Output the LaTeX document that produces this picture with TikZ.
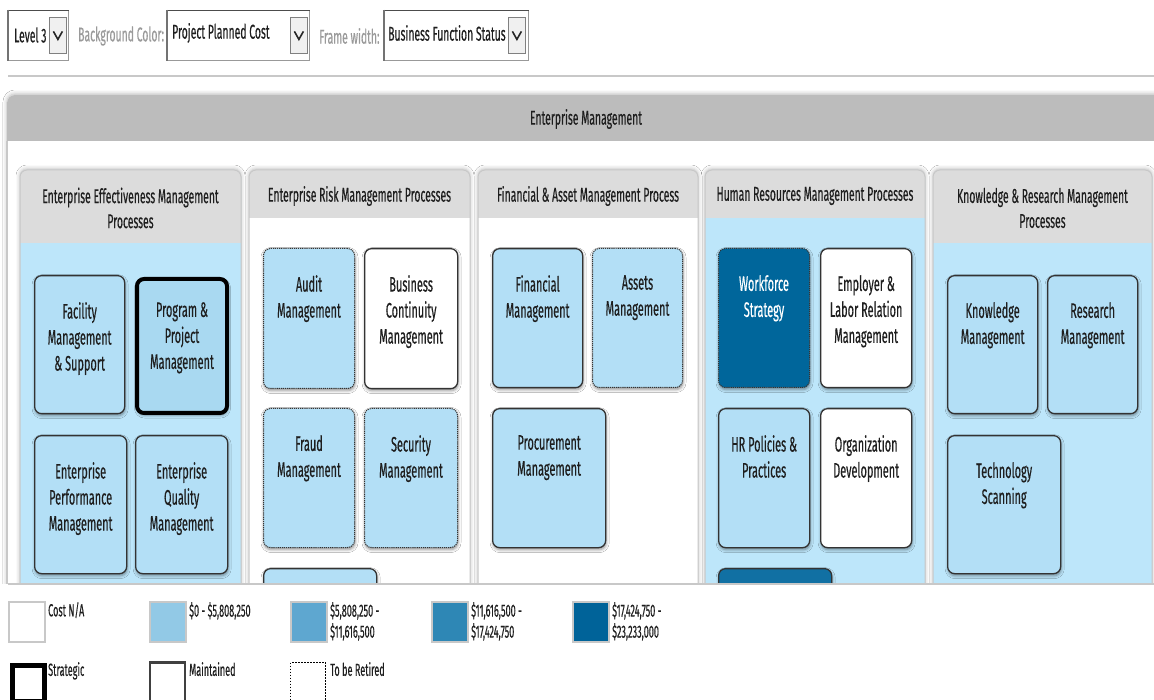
\documentclass[tikz,border=0pt]{standalone}
\usepackage{fontspec}
\setmainfont[FakeStretch=0.52,FakeBold=0.35]{Fira Sans}
\usetikzlibrary{shadows.blur}
\definecolor{bodyblue}{HTML}{BDE6FA}
\definecolor{boxblue}{HTML}{B3DFF6}
\definecolor{progblue}{HTML}{A9D9F1}
\definecolor{darkblue}{HTML}{00669B}
\definecolor{darkblueb}{HTML}{1170A3}
\definecolor{hdrgray}{HTML}{DCDCDC}
\definecolor{outergray}{HTML}{BCBCBC}
\definecolor{bordgray}{HTML}{C8C8C8}
\definecolor{txt}{HTML}{1E1E1E}
\definecolor{lbltxt}{HTML}{9A9A9A}
\definecolor{lga}{HTML}{92C9E6}
\definecolor{lgb}{HTML}{5EA7D0}
\definecolor{lgc}{HTML}{2E87B5}
\definecolor{lgd}{HTML}{006399}
\tikzset{
  bx/.style={draw=black!80, line width=1.3pt, rounded corners=7pt, fill=boxblue, inner sep=0pt,
    anchor=north west,
    blur shadow={shadow xshift=0.5pt, shadow yshift=-2pt, shadow opacity=45, shadow blur radius=3pt}},
  retire/.style={dash pattern=on 1.2pt off 0.9pt, line width=1pt},
  strat/.style={line width=4pt, draw=black, fill=progblue},
  whitebox/.style={fill=white},
  darkbox/.style={fill=darkblue},
  boxlbl/.style={font=\fontsize{21}{26}\selectfont, text=txt, align=center, anchor=north, inner sep=0pt},
  hdrlbl/.style={font=\fontsize{20}{25}\selectfont, text=txt, align=center},
  lgtxt/.style={font=\fontsize{17.5}{21}\selectfont, text=txt, align=left, anchor=north west, inner sep=0pt},
  ctltxt/.style={font=\fontsize{20}{22}\selectfont, text=txt, anchor=west, inner sep=0pt},
  ctllbl/.style={font=\fontsize{20}{22}\selectfont, text=lbltxt, anchor=west, inner sep=0pt},
  ddbox/.style={draw=black!40, line width=1pt, fill=white},
  ddbtn/.style={draw=black!50, line width=0.8pt, fill=black!6},
  chev/.style={line width=1.6pt, draw=black!85},
  swatch/.style={draw=bordgray, line width=1.5pt},
}
% name, x1, y1, x2, y2, style, text
\newcommand\procbox[7]{%
  \node[bx,#6, minimum width={#4-#2}, minimum height={#5-#3}] (#1) at (#2,#3) {};
  \node[boxlbl] (#1t) at ([yshift=-27pt]#1.north) {#7};}
\newcommand\colpanel[4]{% x1,x2,header bottom, body colour
  \fill[#4, blur shadow={shadow xshift=0pt, shadow yshift=1pt, shadow opacity=30, shadow blur radius=4pt}, rounded corners=7pt] (#1,170) rectangle (#2,640);
  \fill[hdrgray] (#1,#3) [rounded corners=7pt] -- (#1,170) -- (#2,170) [sharp corners] -- (#2,#3) -- cycle;
  \draw[bordgray, line width=1pt] (#1,640) [rounded corners=7pt] -- (#1,170) -- (#2,170) [sharp corners] -- (#2,640);}
\newcommand\ddtop[1]{\draw[black!70, line width=1.8pt] ([yshift=-0.5pt]#1.north west) -- ([yshift=-0.5pt]#1.north east);
  \draw[black!55, line width=1.2pt] (#1.north west) -- (#1.south west);}
\begin{document}
\begin{tikzpicture}[x=1pt,y=-1pt]
\useasboundingbox (0,0) rectangle (1154,700);
\fill[white] (0,0) rectangle (1154,700);
% ---------- controls
\node[ddbox, minimum width=60, minimum height=50, anchor=north west] (dda) at (8,10) {};
\ddtop{dda}
\node[ctltxt] (ddat) at (14,35) {Level 3};
\node[ddbtn, minimum width=17, minimum height=36, anchor=north west] (ddab) at (49,17) {};
\draw[chev] ([xshift=-4.5pt,yshift=4pt]ddab.center) -- ([yshift=-4pt]ddab.center) -- ([xshift=4.5pt,yshift=4pt]ddab.center);
\node[ctllbl] (lbla) at (78,36) {Background Color:};
\node[ddbox, minimum width=142, minimum height=50, anchor=north west] (ddb) at (167,10) {};
\ddtop{ddb}
\node[ctltxt] (ddbt) at (172,33) {Project Planned Cost};
\node[ddbtn, minimum width=17, minimum height=36, anchor=north west] (ddbb) at (290,17) {};
\draw[chev] ([xshift=-4.5pt,yshift=4pt]ddbb.center) -- ([yshift=-4pt]ddbb.center) -- ([xshift=4.5pt,yshift=4pt]ddbb.center);
\node[ctllbl] (lblb) at (319,36) {Frame width:};
\node[ddbox, minimum width=144, minimum height=50, anchor=north west] (ddc) at (384,10) {};
\ddtop{ddc}
\node[ctltxt] (ddct) at (388,33) {Business Function Status};
\node[ddbtn, minimum width=17, minimum height=36, anchor=north west] (ddcb) at (508,17) {};
\draw[chev] ([xshift=-4.5pt,yshift=4pt]ddcb.center) -- ([yshift=-4pt]ddcb.center) -- ([xshift=4.5pt,yshift=4pt]ddcb.center);
\draw[bordgray, line width=2pt] (8,76) -- (1154,76);
% ---------- main panel
\begin{scope}
\clip (0,88) rectangle (1154,583);
\fill[white, blur shadow={shadow xshift=0pt, shadow yshift=1pt, shadow opacity=30, shadow blur radius=4pt}, rounded corners=8pt] (7,95) rectangle (1170,640);
\fill[outergray] (7,141) [rounded corners=8pt] -- (7,95) -- (1170,95) [sharp corners] -- (1170,141) -- cycle;
\draw[bordgray, line width=1.5pt] (7,640) -- (7,141);
\node[hdrlbl] (em) at (586,119) {Enterprise Management};
\colpanel{20}{241}{243}{bodyblue}
\colpanel{249}{470}{218}{white}
\colpanel{478}{698}{218}{white}
\colpanel{705}{925}{218}{bodyblue}
\colpanel{933}{1152}{243}{bodyblue}
\node[hdrlbl] (h1) at (130.5,208) {Enterprise Effectiveness Management\\Processes};
\node[hdrlbl] (h2) at (359.5,196) {Enterprise Risk Management Processes};
\node[hdrlbl] (h3) at (588,196) {Financial \& Asset Management Process};
\node[hdrlbl] (h4) at (815,196) {Human Resources Management Processes};
\node[hdrlbl] (h5) at (1042.5,208) {Knowledge \& Research Management\\Processes};
% column 1
\procbox{fac}{34}{275}{124}{413}{}{Facility\\Management\\\& Support}
\node[bx, strat, minimum width=90, minimum height=134] (prog) at (135,277) {};
\node[boxlbl] (progt) at ([yshift=-25pt]prog.north) {Program \&\\Project\\Management};
\procbox{perf}{34}{435}{126}{573}{}{Enterprise\\Performance\\Management}
\procbox{qual}{135}{435}{227}{573}{}{Enterprise\\Quality\\Management}
% column 2
\procbox{audit}{263}{248}{354}{388}{retire}{Audit\\Management}
\procbox{bcm}{364}{248}{457}{388}{whitebox}{Business\\Continuity\\Management}
\procbox{fraud}{263}{408}{354}{547}{retire}{Fraud\\Management}
\procbox{sec}{364}{408}{457}{547}{retire}{Security\\Management}
\node[bx, minimum width=113, minimum height=60] (cpart) at (263,568) {};
% column 3
\procbox{fin}{492}{248}{582}{387}{}{Financial\\Management}
\procbox{ast}{592}{248}{682}{387}{retire}{Assets\\Management}
\procbox{proc}{492}{408}{605}{547}{}{Procurement\\Management}
% column 4
\node[bx, retire, darkbox, minimum width=91, minimum height=139] (wf) at (718,248) {};
\node[boxlbl, text=white] (wft) at ([yshift=-27pt]wf.north) {Workforce\\Strategy};
\procbox{elr}{820}{248}{911}{387}{whitebox}{Employer \&\\Labor Relation\\Management}
\procbox{hrp}{718}{408}{809}{547}{}{HR Policies \&\\Practices}
\procbox{od}{820}{408}{911}{547}{whitebox}{Organization\\Development}
\node[bx, fill=darkblueb, minimum width=113, minimum height=60] (hpart) at (718,568) {};
% column 5
\procbox{km}{947}{275}{1037}{413}{}{Knowledge\\Management}
\procbox{rm}{1047}{275}{1137}{413}{}{Research\\Management}
\procbox{ts}{947}{435}{1060}{573}{}{Technology\\Scanning}
\end{scope}
\draw[bordgray, line width=2pt] (8,584) -- (1154,584);
% ---------- legend
\node[swatch, fill=white, minimum width=36, minimum height=40, anchor=north west] (sa) at (8,601) {};
\node[lgtxt] (sat) at (48,602) {Cost N/A};
\node[swatch, fill=lga, minimum width=36, minimum height=40, anchor=north west] (sb) at (149,601) {};
\node[lgtxt] (sbt) at (189,602) {\$0 - \$5,808,250};
\node[swatch, fill=lgb, minimum width=36, minimum height=40, anchor=north west] (sc) at (290,601) {};
\node[lgtxt] (sct) at (330,602) {\$5,808,250 -\\\$11,616,500};
\node[swatch, fill=lgc, minimum width=36, minimum height=40, anchor=north west] (sd) at (431,601) {};
\node[lgtxt] (sdt) at (471,602) {\$11,616,500 -\\\$17,424,750};
\node[swatch, fill=lgd, minimum width=36, minimum height=40, anchor=north west] (se) at (572,601) {};
\node[lgtxt] (set) at (612,602) {\$17,424,750 -\\\$23,233,000};
\node[draw=black, line width=4.5pt, fill=white, minimum width=32, minimum height=36, anchor=north west] (ra) at (10,663) {};
\node[lgtxt] (rat) at (48,662) {Strategic};
\node[draw=black!75, line width=1.5pt, fill=white, minimum width=35, minimum height=38, anchor=north west] (rb) at (149,662) {};
\draw[black!75, line width=2.5pt] (rb.north west) -- (rb.north east);
\node[lgtxt] (rbt) at (189,662) {Maintained};
\node[draw=black, dash pattern=on 1.5pt off 1.5pt, line width=1pt, fill=white, minimum width=35, minimum height=38, anchor=north west] (rc) at (290,662) {};
\node[lgtxt] (rct) at (330,662) {To be Retired};
\end{tikzpicture}
\end{document}
